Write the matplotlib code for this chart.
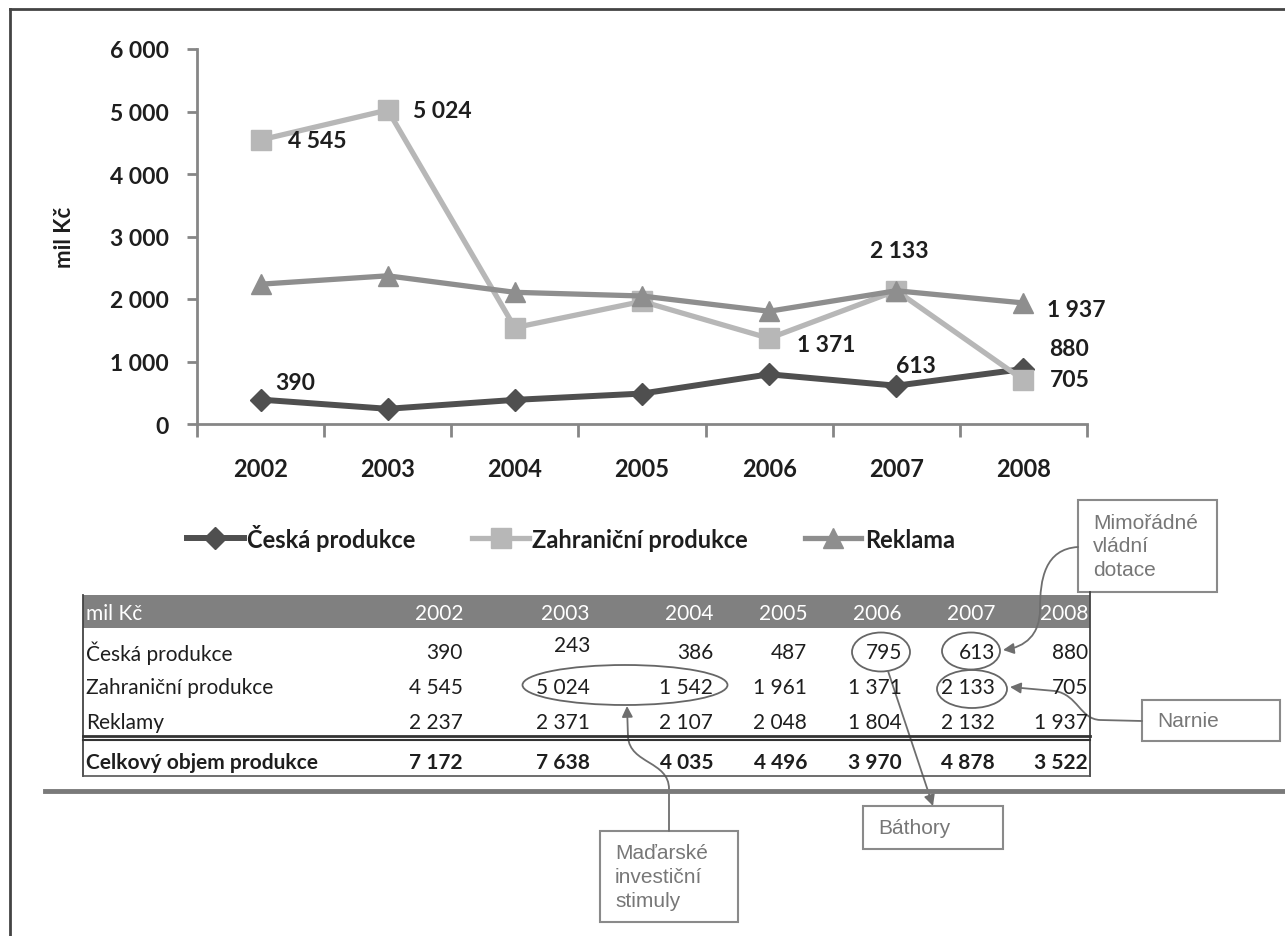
import matplotlib.pyplot as plt
from matplotlib.patches import Ellipse, Rectangle, FancyArrowPatch
from matplotlib.path import Path
from matplotlib.lines import Line2D

# data (mil Kč)
roky = ["2002", "2003", "2004", "2005", "2006", "2007", "2008"]
ceska = [390, 243, 386, 487, 795, 613, 880]
zahranicni = [4545, 5024, 1542, 1961, 1371, 2133, 705]
reklama = [2237, 2371, 2107, 2048, 1804, 2132, 1937]
celkem = [7172, 7638, 4035, 4496, 3970, 4878, 3522]
nazvy_serii = ["Česká produkce", "Zahraniční produkce", "Reklama"]
nazvy_radku = ["Česká produkce", "Zahraniční produkce", "Reklamy", "Celkový objem produkce"]
y_ticks = [0, 1000, 2000, 3000, 4000, 5000, 6000]
popisky = {"Mimořádné": "Mimořádné\nvládní\ndotace", "Narnie": "Narnie",
           "Báthory": "Báthory", "Madarske": "Maďarské\ninvestiční\nstimuly"}

plt.rcParams['font.family'] = ['Lato', 'DejaVu Sans']

W, H = 1285, 937
AXIS = '#868686'
TXT = '#1e1e1e'
BOX = '#8a8a8a'
BOXTXT = '#777777'


def fmt(v):
    return f"{v:,}".replace(",", " ")


fig = plt.figure(figsize=(W / 100, H / 100), dpi=100)

# overlay in pixel coordinates for table, callouts and frame
ov = fig.add_axes([0, 0, 1, 1])
ov.set_xlim(0, W)
ov.set_ylim(H, 0)
ov.axis('off')

ax = fig.add_axes([197 / W, 1 - 425 / H, (1087 - 197) / W, (425 - 50) / H])
x = list(range(len(roky)))

styly = [
    dict(color='#4f4f4f', marker='D', markersize=11, lw=4.3),
    dict(color='#b7b7b7', marker='s', markersize=14, lw=3.8),
    dict(color='#8e8e8e', marker='^', markersize=15, lw=3.8),
]
serie = [ceska, zahranicni, reklama]
for s, st in zip(serie, styly):
    ax.plot(x, s, solid_joinstyle='miter', **st)

ax.set_xlim(-0.5, 6.5)
ax.set_ylim(0, 6000)
for side in ['top', 'right']:
    ax.spines[side].set_visible(False)
for side in ['left', 'bottom']:
    ax.spines[side].set_color(AXIS)
    ax.spines[side].set_linewidth(2)
ax.spines['bottom'].set_capstyle('projecting')

ax.set_xticks(x)
ax.set_xticklabels(roky, fontsize=17, fontweight='bold', color=TXT)
ax.tick_params(axis='x', which='major', length=0, pad=24)
ax.set_xticks([i - 0.5 for i in range(len(roky) + 1)], minor=True)
ax.tick_params(axis='x', which='minor', length=9, width=2, color=AXIS, direction='out')
ax.set_yticks(y_ticks)
ax.set_yticklabels([fmt(v) for v in y_ticks], fontsize=16.5, fontweight='bold', color=TXT)
ax.tick_params(axis='y', length=7, width=2, color=AXIS, pad=13)
ax.set_ylabel("mil Kč", fontsize=16, fontweight='bold', color=TXT)
ax.yaxis.set_label_coords(-0.137, 0.5)
ax.patch.set_alpha(0)

# data labels: (series, year index, offset px, alignment)
labely = [
    (0, 0, (15, 17), 'left'), (0, 5, (20, 20), 'center'), (0, 6, (26, 20), 'left'),
    (1, 0, (27, -1), 'left'), (1, 1, (25, 0), 'left'), (1, 4, (28, -6), 'left'),
    (1, 5, (3, 40), 'center'), (1, 6, (26, 0), 'left'), (2, 6, (24, -7), 'left'),
]
for si, i, off, ha in labely:
    ax.annotate(fmt(serie[si][i]), (x[i], serie[si][i]), xytext=off,
                textcoords='offset pixels', ha=ha, va='center',
                fontsize=16.5, fontweight='bold', color=TXT)

handles = [Line2D([], [], **st) for st in styly]
ax.legend(handles, nazvy_serii, loc='center', bbox_to_anchor=(571 / W, 1 - 538 / H),
          bbox_transform=fig.transFigure, ncol=3, frameon=False, handlelength=2.4,
          handletextpad=0.15, columnspacing=2.4,
          prop={'size': 17, 'weight': 'bold'}, labelcolor=TXT)

# outer frame
ov.plot([10, 10], [10, H], color='#444444', lw=2, clip_on=False)
ov.plot([10, W], [10, 10], color='#444444', lw=2, clip_on=False)

# table
t_left, t_right = 83, 1090
col_right = [463, 590, 713, 807, 902, 995, 1088]
ov.add_patch(Rectangle((t_left, 596), t_right - t_left, 33, color='#808080', lw=0))
ov.text(86, 614, "mil Kč", color='white', va='center', fontsize=15)
for i, r in enumerate(roky):
    ov.text(col_right[i], 614, r, color='white', va='center', ha='right', fontsize=15)

radky = [ceska, zahranicni, reklama, celkem]
row_y = [653, 688, 723, 763]
for j, (nazev, vals) in enumerate(zip(nazvy_radku, radky)):
    w = 'bold' if j == 3 else 'normal'
    ov.text(86, row_y[j], nazev, color=TXT, va='center', fontsize=15, fontweight=w)
    for i, v in enumerate(vals):
        yy = row_y[j] - (7 if (j == 0 and i == 1) else 0)
        ov.text(col_right[i], yy, fmt(v), color=TXT, va='center', ha='right',
                fontsize=15, fontweight=w)

ov.plot([t_left, t_left], [596, 777], color='#444444', lw=1.3)
ov.plot([t_right, t_right], [593, 777], color='#444444', lw=1.3)
ov.plot([t_left, t_right], [737, 737], color='#333333', lw=2)
ov.plot([t_left, t_right], [741, 741], color='#333333', lw=1.5)
ov.plot([t_left, t_right], [777, 777], color='#555555', lw=1.2)
ov.plot([45, W], [792, 792], color='#7a7a7a', lw=3.5, clip_on=False)

# highlighted cells
for cx, cy, ew, eh in [(881, 653, 58, 39), (971, 652, 58, 37),
                       (972, 690, 70, 38), (625, 686, 205, 40)]:
    ov.add_patch(Ellipse((cx, cy), ew, eh, fill=False, edgecolor='#666666', lw=1.3))

# callout boxes
boxy = [
    ("Mimořádné", 1078, 501, 1217, 593),
    ("Narnie", 1142, 701, 1280, 742),
    ("Báthory", 863, 807, 1003, 850),
    ("Madarske", 600, 832, 738, 923),
]
for key, x0, y0, x1, y1 in boxy:
    ov.add_patch(Rectangle((x0, y0), x1 - x0, y1 - y0, facecolor='white',
                           edgecolor=BOX, lw=1.5))
    ov.text(x0 + 15, (y0 + y1) / 2, popisky[key], family=['Liberation Sans', 'DejaVu Sans'],
            fontsize=15, color=BOXTXT, va='center', ha='left', linespacing=1.32)

C4, L2, M = Path.CURVE4, Path.LINETO, Path.MOVETO
sipky = [
    Path([(1078, 548), (1045, 550), (1040, 580), (1040, 610),
          (1040, 636), (1025, 648), (1003, 651)], [M, C4, C4, C4, C4, C4, C4]),
    Path([(1142, 722), (1100, 721), (1080, 720), (1078, 696), (1055, 692), (1010, 688)],
         [M, L2, C4, C4, C4, L2]),
    Path([(669, 832), (669, 790), (669, 762), (630, 765), (628, 738), (627, 707)],
         [M, L2, C4, C4, C4, L2]),
    Path([(888, 672), (933, 807)], [M, L2]),
]
for p in sipky:
    ov.add_patch(FancyArrowPatch(path=p, arrowstyle='-|>', mutation_scale=16,
                                 color='#6e6e6e', lw=1.3))

fig.savefig("out.png", dpi=100)
